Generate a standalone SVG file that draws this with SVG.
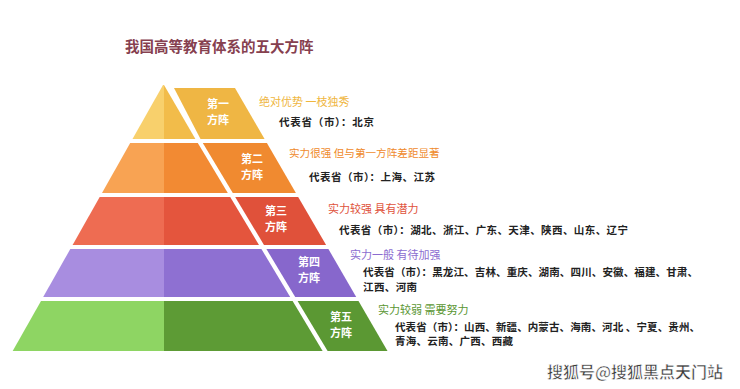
<svg xmlns="http://www.w3.org/2000/svg" width="740" height="389" viewBox="0 0 740 389">
<style>
text{font-family:"Noto Sans CJK SC","Noto Sans",sans-serif}
.title{font-size:14.5px;font-weight:bold;fill:#86404f}
.lab{font-size:11px;font-weight:bold;fill:#ffffff;text-anchor:middle}
.sub{font-size:11px}
.det{font-size:10.5px;font-weight:bold;fill:#222222}
.wm{font-size:16px;font-weight:bold;fill:#3a3a3a;stroke:#ffffff;stroke-width:0.6;text-anchor:end}
</style>
<rect width="740" height="389" fill="#ffffff"/>
<text class="title" x="125" y="51.5">我国高等教育体系的五大方阵</text>

<g id="tier1">
<polygon points="163,85 164,85 164,139 132.5,139" fill="#f8d06c"/>
<polygon points="164,85 195.4,139 164,139" fill="#f2bc4a"/>
<polygon points="174,88 235,88 264.6,139 200.5,139" fill="#efb644"/>
<text class="lab" x="218" y="108">第一</text>
<text class="lab" x="218" y="124">方阵</text>
<text class="sub" x="259" y="106" fill="#efb63e">绝对优势 一枝独秀</text>
<text class="det" x="279" y="126" textLength="95" lengthAdjust="spacing">代表省（市）：北京</text>
</g>

<g id="tier2">
<polygon points="130.2,143 164,143 164,193 102,193" fill="#f8a353"/>
<polygon points="164,143 197.8,143 227.8,193 164,193" fill="#f28a33"/>
<polygon points="202.8,143 266.9,143 295.9,193 232.8,193" fill="#f08a30"/>
<text class="lab" x="252" y="163">第二</text>
<text class="lab" x="252" y="179">方阵</text>
<text class="sub" x="289" y="157" fill="#ef8a2c" style="font-size:10.6px">实力很强 但与第一方阵差距显著</text>
<text class="det" x="309" y="181" textLength="126" lengthAdjust="spacing">代表省（市）：上海、江苏</text>
</g>

<g id="tier3">
<polygon points="99.7,197 164,197 164,245 72.6,245" fill="#ee6c52"/>
<polygon points="164,197 230.2,197 259,245 164,245" fill="#e4553d"/>
<polygon points="235.2,197 298.2,197 326.1,245 264,245" fill="#e0513a"/>
<text class="lab" x="276" y="215">第三</text>
<text class="lab" x="276" y="231">方阵</text>
<text class="sub" x="328" y="213" fill="#e0523b">实力较强 具有潜力</text>
<text class="det" x="339" y="234" textLength="289" lengthAdjust="spacing">代表省（市）：湖北、浙江、广东、天津、陕西、山东、辽宁</text>
</g>

<g id="tier4">
<polygon points="70.3,249 164,249 164,297 43.2,297" fill="#a88de0"/>
<polygon points="164,249 261.4,249 290.2,297 164,297" fill="#8e70d2"/>
<polygon points="266.4,249 328.4,249 356.2,297 295.2,297" fill="#8767cc"/>
<text class="lab" x="309" y="266">第四</text>
<text class="lab" x="309" y="282">方阵</text>
<text class="sub" x="350" y="259" fill="#8b6cd0">实力一般 有待加强</text>
<text class="det" x="363" y="276" textLength="335" lengthAdjust="spacing">代表省（市）：黑龙江、吉林、重庆、湖南、四川、安徽、福建、甘肃、</text>
<text class="det" x="363" y="291" textLength="54" lengthAdjust="spacing">江西、河南</text>
</g>

<g id="tier5">
<polygon points="41,301 164,301 164,351 12.7,351" fill="#8ed563"/>
<polygon points="164,301 292.6,301 322.6,351 164,351" fill="#5d9b35"/>
<polygon points="297.6,301 358.5,301 387.5,351 327.6,351" fill="#5b9833"/>
<text class="lab" x="341" y="321">第五</text>
<text class="lab" x="341" y="337">方阵</text>
<text class="sub" x="378" y="314" fill="#5a9632">实力较弱 需要努力</text>
<text class="det" x="395" y="331" textLength="305" lengthAdjust="spacing">代表省（市）：山西、新疆、内蒙古、海南、河北 、宁夏、贵州、</text>
<text class="det" x="395" y="345" textLength="118" lengthAdjust="spacing">青海、云南、广西、西藏</text>
</g>

<g id="connectors"></g>

<text class="wm" x="723" y="378">搜狐号@搜狐黑点天门站</text>
</svg>
